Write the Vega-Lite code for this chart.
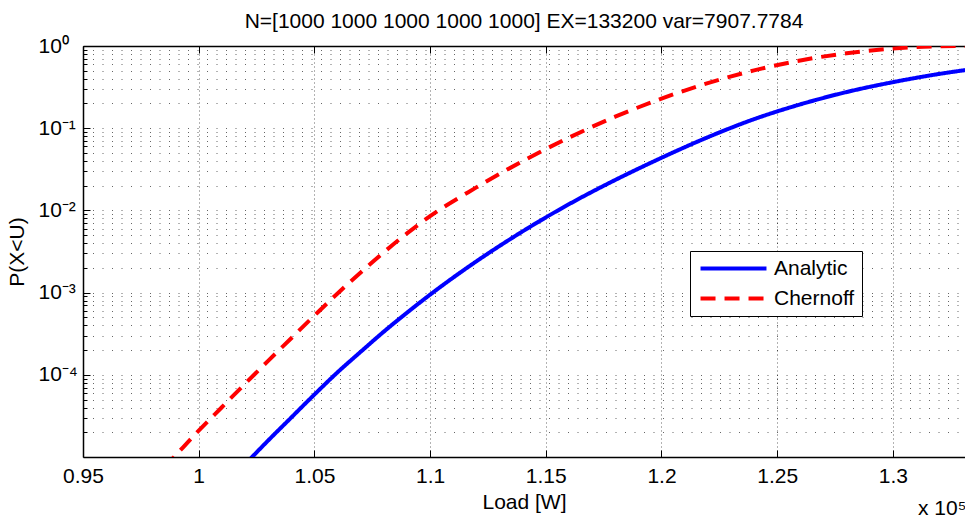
{
  "$schema": "https://vega.github.io/schema/vega-lite/v6.json",
  "width": 882,
  "height": 411,
  "autosize": {"type": "none"},
  "padding": {"left": 83, "top": 46, "right": 0, "bottom": 62},
  "background": "white",
  "title": {
    "text": "N=[1000 1000 1000 1000 1000] EX=133200 var=7907.7784",
    "font": "Liberation Sans",
    "fontSize": 21,
    "fontWeight": "normal",
    "color": "#000000",
    "anchor": "middle",
    "offset": 3
  },
  "config": {
    "view": {"stroke": null},
    "font": "Liberation Sans"
  },
  "datasets": {
    "curves": [
      {"load": 102000, "p": 0.00000813, "bound": "Analytic"},
      {"load": 103000, "p": 0.00001585, "bound": "Analytic"},
      {"load": 104000, "p": 0.0000302, "bound": "Analytic"},
      {"load": 105000, "p": 0.0000575, "bound": "Analytic"},
      {"load": 106000, "p": 0.0001072, "bound": "Analytic"},
      {"load": 107000, "p": 0.0001905, "bound": "Analytic"},
      {"load": 108000, "p": 0.000335, "bound": "Analytic"},
      {"load": 109000, "p": 0.000569, "bound": "Analytic"},
      {"load": 110000, "p": 0.000944, "bound": "Analytic"},
      {"load": 112000, "p": 0.0024, "bound": "Analytic"},
      {"load": 114000, "p": 0.00556, "bound": "Analytic"},
      {"load": 116000, "p": 0.01189, "bound": "Analytic"},
      {"load": 118000, "p": 0.02344, "bound": "Analytic"},
      {"load": 120000, "p": 0.04365, "bound": "Analytic"},
      {"load": 122000, "p": 0.0776, "bound": "Analytic"},
      {"load": 124000, "p": 0.1288, "bound": "Analytic"},
      {"load": 126000, "p": 0.195, "bound": "Analytic"},
      {"load": 128000, "p": 0.2754, "bound": "Analytic"},
      {"load": 130000, "p": 0.3631, "bound": "Analytic"},
      {"load": 132000, "p": 0.4571, "bound": "Analytic"},
      {"load": 133200, "p": 0.5129, "bound": "Analytic"},
      {"load": 98500, "p": 0.00000741, "bound": "Chernoff"},
      {"load": 99000, "p": 0.00001047, "bound": "Chernoff"},
      {"load": 100000, "p": 0.00002089, "bound": "Chernoff"},
      {"load": 101000, "p": 0.0000403, "bound": "Chernoff"},
      {"load": 102000, "p": 0.0000776, "bound": "Chernoff"},
      {"load": 103000, "p": 0.0001479, "bound": "Chernoff"},
      {"load": 104000, "p": 0.0002786, "bound": "Chernoff"},
      {"load": 105000, "p": 0.000525, "bound": "Chernoff"},
      {"load": 106000, "p": 0.000977, "bound": "Chernoff"},
      {"load": 107000, "p": 0.001758, "bound": "Chernoff"},
      {"load": 108000, "p": 0.00309, "bound": "Chernoff"},
      {"load": 109000, "p": 0.00525, "bound": "Chernoff"},
      {"load": 110000, "p": 0.00851, "bound": "Chernoff"},
      {"load": 112000, "p": 0.01905, "bound": "Chernoff"},
      {"load": 114000, "p": 0.03981, "bound": "Chernoff"},
      {"load": 116000, "p": 0.07674, "bound": "Chernoff"},
      {"load": 118000, "p": 0.138, "bound": "Chernoff"},
      {"load": 120000, "p": 0.2291, "bound": "Chernoff"},
      {"load": 122000, "p": 0.3532, "bound": "Chernoff"},
      {"load": 124000, "p": 0.5047, "bound": "Chernoff"},
      {"load": 126000, "p": 0.6668, "bound": "Chernoff"},
      {"load": 128000, "p": 0.8166, "bound": "Chernoff"},
      {"load": 130000, "p": 0.929, "bound": "Chernoff"},
      {"load": 131000, "p": 0.9683, "bound": "Chernoff"},
      {"load": 132000, "p": 0.9897, "bound": "Chernoff"},
      {"load": 133200, "p": 1.0, "bound": "Chernoff"}
    ]
  },
  "data": {"name": "curves"},
  "resolve": {"axis": {"x": "independent", "y": "independent"}},
  "layer": [
    {
      "mark": {"type": "line", "clip": true, "strokeWidth": 4, "interpolate": "monotone", "strokeCap": "butt"},
      "encoding": {
        "x": {
          "field": "load",
          "type": "quantitative",
          "scale": {"domain": [95000, 133116], "nice": false, "zero": false},
          "axis": {
            "orient": "bottom",
            "values": [95000, 100000, 105000, 110000, 115000, 120000, 125000, 130000],
            "labelExpr": "'' + datum.value / 100000",
            "labelFont": "Liberation Sans",
            "labelFontSize": 21,
            "labelColor": "#000000",
            "labelPadding": 15,
            "labelFlush": false,
            "labelOverlap": false,
            "tickSize": -7,
            "tickColor": "#000000",
            "tickWidth": 1,
            "domainColor": "#000000",
            "domainWidth": 1.5,
            "grid": true,
            "gridColor": "#000000",
            "gridOpacity": 0.6,
            "gridWidth": 1,
            "gridDash": [1, 3],
            "title": "Load [W]",
            "titleFont": "Liberation Sans",
            "titleFontSize": 21,
            "titleFontWeight": "normal",
            "titleColor": "#000000",
            "titleBaseline": "alphabetic",
            "titleY": 51
          }
        },
        "y": {
          "field": "p",
          "type": "quantitative",
          "scale": {"type": "log", "domain": [0.00001, 1], "nice": false},
          "axis": {
            "orient": "left",
            "values": [0.0001, 0.001, 0.01, 0.1, 1],
            "labelExpr": "datum.value >= 0.5 ? '10⁰' : datum.value >= 0.05 ? '10⁻¹' : datum.value >= 0.005 ? '10⁻²' : datum.value >= 0.0005 ? '10⁻³' : '10⁻⁴'",
            "labelFont": "Liberation Sans",
            "labelFontSize": 21,
            "labelColor": "#000000",
            "labelAlign": "left",
            "labelPadding": 52,
            "labelFlush": false,
            "labelOverlap": false,
            "tickSize": -7,
            "tickColor": "#000000",
            "tickWidth": 1,
            "domainColor": "#000000",
            "domainWidth": 1.5,
            "grid": true,
            "gridColor": "#000000",
            "gridOpacity": 0.6,
            "gridWidth": 1,
            "gridDash": [1, 8.5],
            "title": "P(X<U)",
            "titleFont": "Liberation Sans",
            "titleFontSize": 21,
            "titleFontWeight": "normal",
            "titleColor": "#000000",
            "titleAngle": -90,
            "titleBaseline": "alphabetic",
            "titleX": -60,
            "titleY": 205.5
          }
        },
        "color": {
          "field": "bound",
          "type": "nominal",
          "scale": {"domain": ["Analytic", "Chernoff"], "range": ["#0000ff", "#ff0000"]},
          "legend": {
            "title": null,
            "orient": "none",
            "legendX": 607,
            "legendY": 205,
            "symbolType": "M-5,0H5",
            "symbolSize": 174,
            "symbolOffset": 26,
            "symbolStrokeWidth": 4,
            "labelFont": "Liberation Sans",
            "labelFontSize": 21,
            "labelColor": "#000000",
            "labelOffset": 30,
            "labelLimit": 200,
            "padding": 7,
            "rowPadding": 8,
            "strokeColor": "#000000",
            "fillColor": "#ffffff"
          }
        },
        "strokeDash": {
          "field": "bound",
          "type": "nominal",
          "scale": {"domain": ["Analytic", "Chernoff"], "range": [[1, 0], [15, 9]]},
          "legend": {
            "title": null,
            "orient": "none",
            "legendX": 607,
            "legendY": 205,
            "symbolType": "M-5,0H5",
            "symbolSize": 174,
            "symbolOffset": 26,
            "symbolStrokeWidth": 4,
            "labelFont": "Liberation Sans",
            "labelFontSize": 21,
            "labelColor": "#000000",
            "labelOffset": 30,
            "labelLimit": 200,
            "padding": 7,
            "rowPadding": 8,
            "strokeColor": "#000000",
            "fillColor": "#ffffff"
          }
        }
      }
    },
    {
      "mark": {"type": "line", "opacity": 0},
      "encoding": {
        "detail": {"field": "bound", "type": "nominal"},
        "x": {
          "field": "load",
          "type": "quantitative",
          "axis": {
            "orient": "top",
            "values": [95000, 100000, 105000, 110000, 115000, 120000, 125000, 130000],
            "labels": false,
            "tickSize": -7,
            "tickColor": "#000000",
            "tickWidth": 1,
            "domainColor": "#000000",
            "domainWidth": 1.5,
            "grid": false,
            "title": null
          }
        },
        "y": {
          "field": "p",
          "type": "quantitative",
          "axis": {
            "orient": "left",
            "values": [0.00002, 0.00003, 0.00004, 0.00005, 0.00006, 0.00007, 0.00008, 0.00009,
                       0.0002, 0.0003, 0.0004, 0.0005, 0.0006, 0.0007, 0.0008, 0.0009,
                       0.002, 0.003, 0.004, 0.005, 0.006, 0.007, 0.008, 0.009,
                       0.02, 0.03, 0.04, 0.05, 0.06, 0.07, 0.08, 0.09,
                       0.2, 0.3, 0.4, 0.5, 0.6, 0.7, 0.8, 0.9],
            "labels": false,
            "domain": false,
            "tickSize": -4,
            "tickColor": "#000000",
            "tickWidth": 1,
            "grid": true,
            "gridColor": "#000000",
            "gridOpacity": 0.6,
            "gridWidth": 1,
            "gridDash": [1, 8.5],
            "title": null
          }
        }
      }
    },
    {
      "data": {"values": [{"note": "scale"}]},
      "mark": {"type": "text", "align": "left", "baseline": "alphabetic", "font": "Liberation Sans", "fontSize": 21, "color": "#000000", "dx": -47, "dy": 58, "clip": false},
      "encoding": {
        "x": {"datum": 133116, "type": "quantitative", "axis": null},
        "y": {"datum": 0.00001, "type": "quantitative", "axis": null},
        "text": {"value": "x 10⁵"}
      }
    }
  ]
}
